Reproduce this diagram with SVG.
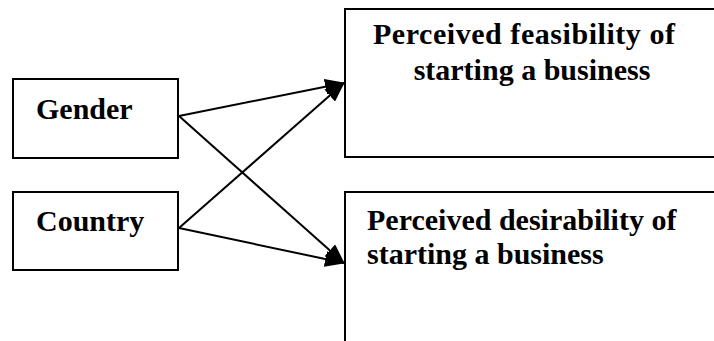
<svg xmlns="http://www.w3.org/2000/svg" width="714" height="341" viewBox="0 0 714 341">
<style>
.box{fill:#fff;stroke:#000;stroke-width:2}
.t{font-family:"Liberation Serif","Times New Roman",serif;font-weight:bold;font-size:30px;fill:#000}
</style>
<defs>
<marker id="ah2" viewBox="0 0 20 16" refX="19" refY="8" markerWidth="20" markerHeight="16" orient="auto" markerUnits="userSpaceOnUse">
<path d="M0,0 L20,8 L0,16 Z" fill="#000"/>
</marker>
</defs>
<g id="gender">
<rect class="box" x="13" y="79" width="165" height="79"/>
<text class="t" x="36" y="119">Gender</text>
</g>
<g id="country">
<rect class="box" x="13" y="192" width="165" height="78"/>
<text class="t" x="36" y="231">Country</text>
</g>
<g id="feasibility">
<path class="box" d="M716,9 L345,9 L345,157 L716,157"/>
<text class="t" x="373" y="44" textLength="302" lengthAdjust="spacing">Perceived feasibility of</text>
<text class="t" x="532" y="80" text-anchor="middle">starting a business</text>
</g>
<g id="desirability">
<path class="box" d="M716,192 L345,192 L345,345"/>
<text class="t" x="367" y="230">Perceived desirability of</text>
<text class="t" x="367" y="264">starting a business</text>
</g>
<g id="connectors" style="stroke:#000;stroke-width:2;fill:none">
<line x1="179" y1="116" x2="344" y2="83" marker-end="url(#ah2)"/>
<line x1="179" y1="116" x2="344" y2="263" marker-end="url(#ah2)"/>
<line x1="179" y1="228" x2="344" y2="83" marker-end="url(#ah2)"/>
<line x1="179" y1="228" x2="344" y2="263" marker-end="url(#ah2)"/>
</g>
</svg>
